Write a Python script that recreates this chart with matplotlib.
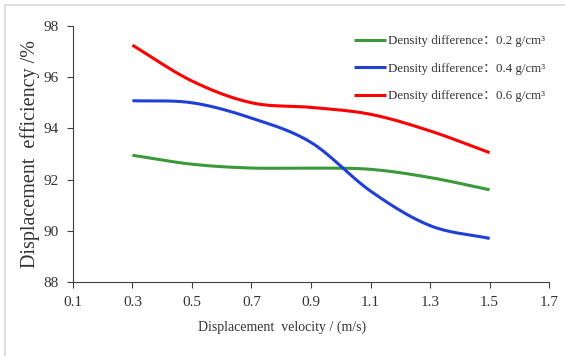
import matplotlib
matplotlib.use('Agg')
import matplotlib.pyplot as plt
import numpy as np

plt.rcParams['font.family'] = ['Liberation Serif', 'Noto Sans CJK SC']

velocity = [0.3, 0.5, 0.7, 0.9, 1.1, 1.3, 1.5]
eff_02 = [92.95, 92.6, 92.45, 92.45, 92.4, 92.08, 91.6]
eff_04 = [95.08, 95.0, 94.4, 93.45, 91.55, 90.2, 89.7]
eff_06 = [97.25, 95.85, 95.0, 94.82, 94.55, 93.9, 93.05]
labels = ['Density difference\uff1a0.2 g/cm\u00b3',
          'Density difference\uff1a0.4 g/cm\u00b3',
          'Density difference\uff1a0.6 g/cm\u00b3']
colors = ['#3a9a3a', '#1f3fd6', '#ff0000']


def smooth(x, y, n=30):
    # catmull-rom through the measured points, like a spreadsheet "smoothed line"
    x = np.asarray(x, float)
    y = np.asarray(y, float)
    px = np.concatenate([[2 * x[0] - x[1]], x, [2 * x[-1] - x[-2]]])
    py = np.concatenate([[2 * y[0] - y[1]], y, [2 * y[-1] - y[-2]]])
    xs, ys = [], []
    t = np.linspace(0, 1, n)
    for i in range(1, len(px) - 2):
        for arr, out in ((px, xs), (py, ys)):
            p0, p1, p2, p3 = arr[i - 1:i + 3]
            out.extend(0.5 * (2 * p1 + (-p0 + p2) * t
                              + (2 * p0 - 5 * p1 + 4 * p2 - p3) * t ** 2
                              + (-p0 + 3 * p1 - 3 * p2 + p3) * t ** 3))
    return xs, ys


fig = plt.figure(figsize=(5.65, 3.56), dpi=100)
ax = fig.add_axes([0.129, 0.208, 0.843, 0.719])

for ys, c, lab in zip([eff_02, eff_04, eff_06], colors, labels):
    sx, sy = smooth(velocity, ys)
    ax.plot(sx, sy, color=c, lw=2.2, label=lab, solid_capstyle='butt')

ax.set_xlim(0.1, 1.7)
ax.set_ylim(88, 98)
ax.set_xticks(np.arange(0.1, 1.71, 0.2))
ax.set_xticklabels(['%.1f' % v for v in np.arange(0.1, 1.71, 0.2)])
ax.set_yticks(range(88, 99, 2))
for s in ['top', 'right']:
    ax.spines[s].set_visible(False)
for s in ['left', 'bottom']:
    ax.spines[s].set_color('#404040')
    ax.spines[s].set_linewidth(0.8)
ax.tick_params(direction='out', length=4, width=0.8, color='#404040',
               labelsize=11, labelcolor='#333333', pad=6)

ax.set_xlabel('Displacement  velocity / (m/s)', fontsize=10, color='#333333')
ax.xaxis.set_label_coords(0.44, -0.15)
ax.set_ylabel('Displacement  efficiency /%', fontsize=14.5, color='#333333')
ax.yaxis.set_label_coords(-0.07, 0.5)

ax.legend(loc='upper left', bbox_to_anchor=(354 / 565, 1 - 35 / 356),
          bbox_transform=fig.transFigure, frameon=False, borderpad=0,
          borderaxespad=0, fontsize=9.3, handlelength=2.45, handletextpad=0.15,
          labelspacing=1.2, labelcolor='#333333')

# light frame along the left and top edges
fig.add_artist(plt.Line2D([0.009, 0.009], [0, 0.986], color='#d9d9d9', lw=1.2))
fig.add_artist(plt.Line2D([0.009, 1], [0.986, 0.986], color='#d9d9d9', lw=1.2))

fig.savefig('out.png', dpi=100)
